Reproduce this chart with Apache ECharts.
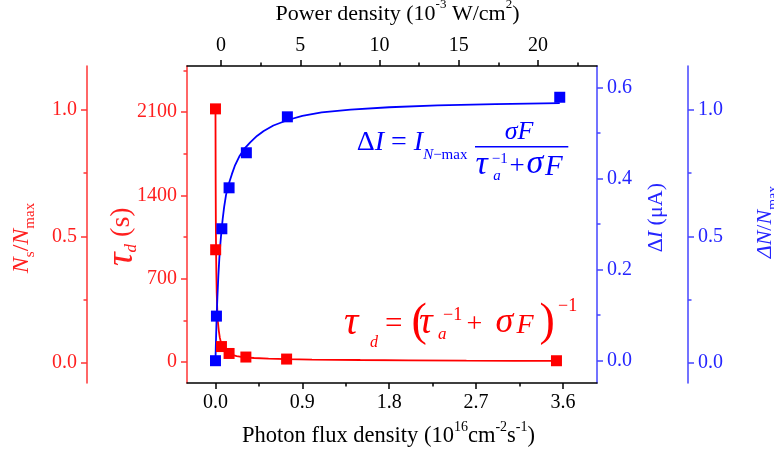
<!DOCTYPE html>
<html><head><meta charset="utf-8">
<script src="https://cdn.jsdelivr.net/npm/echarts@6/dist/echarts.min.js"></script>
<style>html,body{margin:0;padding:0;background:#fff;overflow:hidden}#c{width:774px;height:452px}</style>
</head><body><div id="c"></div>
<script>
// ---- tick values ----
const fluxTicks = [0, 0.9, 1.8, 2.7, 3.6];
const fluxMinor = [0.45, 1.35, 2.25, 3.15];
const powerTicks = [0, 5, 10, 15, 20];
const powerMinor = [2.5, 7.5, 12.5, 17.5, 22.5];
const tauTicks = [0, 700, 1400, 2100];
const tauMinor = [350, 1050, 1750, 2450];
const nsTicks = [0, 0.5, 1.0];
const nsMinor = [0.25, 0.75];
const dITicks = [0, 0.2, 0.4, 0.6];
const dIMinor = [0.1, 0.3, 0.5];
const dNTicks = [0, 0.5, 1.0];
const dNMinor = [0.25, 0.75];

// ---- measured points ----
const tauFlux = [0, 0.002, 0.062, 0.141, 0.315, 0.737, 3.533];
const tauValues = [2126, 943, 130, 72, 42, 25, 11];
const dIFlux = [0, 0.01, 0.066, 0.141, 0.32, 0.745, 3.567];
const dIValues = [0, 0.098, 0.29, 0.38, 0.457, 0.536, 0.579];

// ---- fitted curves ----
const tauFitFlux = [0, 0.002, 0.004, 0.006, 0.009, 0.013, 0.019, 0.026, 0.035, 0.045, 0.062, 0.08, 0.1, 0.13, 0.17, 0.22, 0.3, 0.4, 0.55, 0.74, 1.0, 1.5, 2.0, 2.6, 3.1, 3.55];
const tauFitValues = [2126, 1500, 1150, 950, 750, 580, 430, 330, 260, 205, 145, 115, 93, 74, 60, 50, 40, 34, 29, 25, 21, 17, 14.5, 12, 10.5, 9.5];
const dIFitFlux = [0, 0.003, 0.006, 0.01, 0.015, 0.02, 0.03, 0.04, 0.05, 0.062, 0.075, 0.09, 0.11, 0.14, 0.17, 0.2, 0.25, 0.3, 0.36, 0.43, 0.5, 0.6, 0.75, 0.9, 1.1, 1.4, 1.8, 2.3, 2.9, 3.567];
const dIFitValues = [0, 0.027, 0.05, 0.08, 0.112, 0.14, 0.187, 0.225, 0.255, 0.285, 0.312, 0.338, 0.365, 0.39, 0.41, 0.428, 0.45, 0.466, 0.48, 0.494, 0.505, 0.517, 0.529, 0.538, 0.546, 0.552, 0.557, 0.561, 0.564, 0.566];

const RED = '#ff0000', RED_AX = '#ff3535', RED_TX = '#ff1f1f';
const BLUE = '#0000ff', BLUE_AX = '#4545ff', BLUE_TX = '#2525ff';
const FONT = 'Liberation Serif';

function zip(a, b) { return a.map((v, i) => [v, b[i]]); }

function mainAxis(pos, min, max, ticks, lineColor, textColor, offset, fmt) {
  return {
    type: 'value', position: pos, min: min, max: max, offset: offset || 0,
    axisLine: { show: true, onZero: false, lineStyle: { color: lineColor, width: 1.5 } },
    axisTick: { show: true, inside: false, length: 6, customValues: ticks, lineStyle: { color: lineColor, width: 1.5 } },
    axisLabel: { show: true, customValues: ticks, formatter: fmt, color: textColor, fontFamily: FONT, fontSize: 20, margin: 10 },
    splitLine: { show: false }, minorTick: { show: false }
  };
}
function minorAxis(pos, min, max, ticks, lineColor, offset) {
  return {
    type: 'value', position: pos, min: min, max: max, offset: offset || 0,
    axisLine: { show: false, onZero: false },
    axisTick: { show: true, inside: false, length: 3.5, customValues: ticks, lineStyle: { color: lineColor, width: 1.5 } },
    axisLabel: { show: false },
    splitLine: { show: false }
  };
}
const f1 = v => v.toFixed(1);
const f0 = v => String(Math.round(v));

function rs(size, color, italic, pad, lh) {
  return { fontFamily: FONT, fontSize: size, fill: color, color: color, fontStyle: italic ? 'italic' : 'normal', padding: pad || [0, 0, 0, 0], lineHeight: lh || 34 };
}
function ctxt(x, y, text, rich, color, rot) {
  return {
    type: 'text', x: x, y: y, rotation: rot || 0, z: 100,
    style: { text: text, rich: rich, fill: color, align: 'center', verticalAlign: 'middle', textAlign: 'center', textVerticalAlign: 'middle' }
  };
}
function ltxt(x, y, text, rich, color) {
  return {
    type: 'text', x: x, y: y, z: 100,
    style: { text: text, rich: rich, fill: color, align: 'left', verticalAlign: 'middle', textAlign: 'left', textVerticalAlign: 'middle' }
  };
}
function gl(x, y, s, size, italic, color, align) {
  return {
    type: 'text', x: x, y: y, z: 100,
    style: { text: s, fontFamily: FONT, fontSize: size, fontStyle: italic ? 'italic' : 'normal', fill: color,
      align: align || 'left', verticalAlign: 'middle', textAlign: align || 'left', textVerticalAlign: 'middle' }
  };
}
const G = [];
G.push(ctxt(388.5, 436, '{a|Photon flux density (10}{p|16}{a|cm}{p|-2}{a|s}{p|-1}{a|)}',
  { a: rs(22.5, '#000'), p: rs(14, '#000', false, [0, 0, 18, 0]) }, '#000'));
G.push(ctxt(397.5, 14, '{a|Power density (10}{p|-3}{a| W/cm}{p|2}{a|)}',
  { a: rs(22, '#000'), p: rs(13, '#000', false, [0, 0, 18, 0]) }, '#000'));
G.push(ctxt(121.7, 236.7, '{t|τ}{d|d}{a| (s)}',
  { t: rs(38, RED_TX, true), d: rs(17, RED_TX, true, [20, 0, 0, 0]), a: rs(28, RED_TX) }, RED_TX, Math.PI / 2));
G.push(ctxt(21.7, 238, '{i|N}{s|s}{a|/}{i|N}{s2|max}',
  { i: rs(24, RED_TX, true), s: rs(15, RED_TX, false, [16, 0, 0, 0]), s2: rs(15, RED_TX, false, [16, 0, 0, 0]), a: rs(24, RED_TX) }, RED_TX, Math.PI / 2));
G.push(ctxt(656.7, 217.7, '{a|Δ}{i|I}{a| (μA)}',
  { i: rs(22, BLUE_TX, true), a: rs(22, BLUE_TX) }, BLUE_TX, Math.PI / 2));
G.push(ctxt(765, 222, '{i|ΔN}{a|/}{i|N}{s|max}',
  { i: rs(22, BLUE_TX, true), s: rs(14, BLUE_TX, false, [16, 0, 0, 0]), a: rs(22, BLUE_TX) }, BLUE_TX, Math.PI / 2));

// blue equation
G.push(ltxt(356.7, 142.7, '{u|Δ}{i|I}{u| = }{i|I}{s|N}{u2|−max}',
  { u: rs(28, BLUE), i: rs(28, BLUE, true), s: rs(15, BLUE, true, [24, 0, 0, 0]), u2: rs(15, BLUE, false, [24, 0, 0, 0]) }, BLUE));
G.push(gl(519, 131.7, 'σF', 26, true, BLUE, 'center'));
G.push({ type: 'line', z: 100, shape: { x1: 475, y1: 146.7, x2: 568.3, y2: 146.7 }, style: { stroke: BLUE, lineWidth: 1.5 } });
G.push(gl(475.5, 164.8, 'τ', 34, true, BLUE));
G.push(gl(493.3, 176, 'a', 15, true, BLUE));
G.push(gl(491.7, 158.8, '−1', 15, false, BLUE));
G.push(gl(509.5, 166.5, '+', 27, false, BLUE));
G.push(gl(526.5, 164.3, 'σ', 34, true, BLUE));
G.push(gl(545, 167.5, 'F', 29, true, BLUE));

// red equation
G.push(gl(344, 323, 'τ', 40, true, RED));
G.push(gl(370, 343, 'd', 16, true, RED));
G.push(gl(385, 325, '=', 31, false, RED));
G.push(gl(411.5, 323, '(', 46, false, RED));
G.push(gl(419, 323, 'τ', 38, true, RED));
G.push(gl(438, 335, 'a', 17, true, RED));
G.push(gl(443, 315, '−1', 18, false, RED));
G.push(gl(466.5, 324.5, '+', 28, false, RED));
G.push(gl(495.5, 322.5, 'σ', 36, true, RED));
G.push(gl(516.5, 325.5, 'F', 28, true, RED));
G.push(gl(539.5, 323, ')', 46, false, RED));
G.push(gl(558, 306, '−1', 18, false, RED));

const chart = echarts.init(document.getElementById('c'), null, { renderer: 'canvas' });
chart.setOption({
  animation: false,
  backgroundColor: '#fff',
  grid: { left: 187, right: 177, top: 66, bottom: 69, containLabel: false, outerBoundsMode: 'none' },
  xAxis: [
    mainAxis('bottom', -0.295, 3.953, fluxTicks, '#000', '#000', 0, f1),
    minorAxis('bottom', -0.295, 3.953, fluxMinor, '#000', 0),
    mainAxis('top', -2.15, 23.73, powerTicks, '#000', '#000', 0, f0),
    minorAxis('top', -2.15, 23.73, powerMinor, '#000', 0)
  ],
  yAxis: [
    mainAxis('left', -176, 2486, tauTicks, RED_AX, RED_TX, 0, f0),
    minorAxis('left', -176, 2486, tauMinor, RED_AX, 0),
    mainAxis('left', -0.079, 1.1725, nsTicks, RED_AX, RED_TX, 100, f1),
    minorAxis('left', -0.079, 1.1725, nsMinor, RED_AX, 100),
    mainAxis('right', -0.049, 0.6477, dITicks, BLUE_AX, BLUE_TX, 0, f1),
    minorAxis('right', -0.049, 0.6477, dIMinor, BLUE_AX, 0),
    mainAxis('right', -0.0803, 1.174, dNTicks, BLUE_AX, BLUE_TX, 91, f1),
    minorAxis('right', -0.0803, 1.174, dNMinor, BLUE_AX, 91)
  ],
  graphic: { elements: G },
  series: [
    { name: 'tau fit', type: 'line', xAxisIndex: 0, yAxisIndex: 0, data: zip(tauFitFlux, tauFitValues),
      showSymbol: false, smooth: false, lineStyle: { color: RED, width: 1.8 }, z: 2 },
    { name: 'dI fit', type: 'line', xAxisIndex: 0, yAxisIndex: 4, data: zip(dIFitFlux, dIFitValues),
      showSymbol: false, smooth: false, lineStyle: { color: BLUE, width: 1.8 }, z: 2 },
    { name: 'tau', type: 'scatter', xAxisIndex: 0, yAxisIndex: 0, data: zip(tauFlux, tauValues),
      symbol: 'rect', symbolSize: 11, itemStyle: { color: RED, opacity: 1 }, z: 3 },
    { name: 'dI', type: 'scatter', xAxisIndex: 0, yAxisIndex: 4, data: zip(dIFlux, dIValues),
      symbol: 'rect', symbolSize: 11, itemStyle: { color: BLUE, opacity: 1 }, z: 4 }
  ]
});
</script></body></html>
